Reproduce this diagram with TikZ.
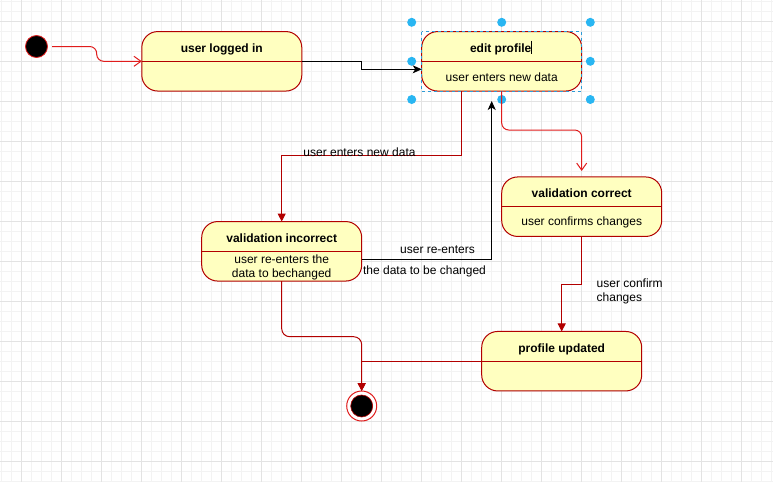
\documentclass[tikz,border=0pt]{standalone}
\usepackage{fontspec}
\setmainfont{Liberation Sans}
\usetikzlibrary{arrows.meta,calc}
\definecolor{statefill}{HTML}{FFFFC0}
\definecolor{statedraw}{HTML}{B20000}
\definecolor{edgered}{HTML}{E01C1C}
\definecolor{gridminor}{HTML}{F3F3F3}
\definecolor{gridmajor}{HTML}{E3E3E3}
\definecolor{handleblue}{HTML}{29B6F2}
\definecolor{selblue}{HTML}{2E9BD6}
\begin{document}
\begin{tikzpicture}[x=1pt,y=-1pt,
  every node/.style={font=\fontsize{12}{14}\selectfont, inner sep=0pt, outer sep=0pt},
  state/.style={draw=statedraw, fill=statefill, rounded corners=16pt, minimum width=160pt, minimum height=59.5pt, line width=1pt},
  divider/.style={draw=statedraw, line width=1pt},
  title/.style={anchor=base, font=\fontsize{12}{14}\selectfont\bfseries},
  body/.style={anchor=base},
  lbl/.style={anchor=base},
  solidarrow/.style={draw=statedraw, line width=1pt, -{Triangle[width=8pt,length=8pt]}},
  openarrow/.style={draw=edgered, line width=1pt, -{Straight Barb[width=10pt,length=7pt,line width=1pt]}, rounded corners=7pt},
  blackarrow/.style={draw=black, line width=1pt, -{Stealth[width=8pt,length=9pt,inset=2.5pt]}},
  handle/.style={circle, fill=handleblue, minimum size=9pt}
]
\useasboundingbox (0,0) rectangle (773,482);
\fill[white] (0,0) rectangle (773,482);
% grid
\foreach \v in {1.7,11.7,...,771.7} \draw[gridminor, line width=0.8pt] (\v,0) -- (\v,482);
\foreach \v in {1.7,11.7,...,481.7} \draw[gridminor, line width=0.8pt] (0,\v) -- (773,\v);
\foreach \v in {21.7,61.7,...,761.7} \draw[gridmajor, line width=0.8pt] (\v,0) -- (\v,482);
\foreach \v in {21.7,61.7,...,461.7} \draw[gridmajor, line width=0.8pt] (0,\v) -- (773,\v);

% states
\node[circle, fill=black, draw=edgered, line width=0.8pt, minimum size=22pt] (init) at (36.5,46.5) {};

\node[state] (login) at (221.8,61.3) {};
\draw[divider] (login.west) -- (login.east);
\node[title] (logint) at (221.8,52.5) {user logged in};

\node[state] (edit) at (501.7,61.3) {};
\draw[divider] (edit.west) -- (edit.east);
\node[title] (editt) at (500.7,52) {edit profile};
\node[body] (editb) at (501.7,81.5) {user enters new data};

\node[state] (incorrect) at (281.7,251.3) {};
\draw[divider] (incorrect.west) -- (incorrect.east);
\node[title] (incorrectt) at (281.7,242) {validation incorrect};
\node[body] (incorrectb1) at (281.7,263.5) {user re-enters the};
\node[body] (incorrectb2) at (281.7,277.5) {data to bechanged};

\node[state] (correct) at (581.7,206.7) {};
\draw[divider] (correct.west) -- (correct.east);
\node[title] (correctt) at (581.7,197) {validation correct};
\node[body] (correctb) at (581.7,225.5) {user confirms changes};

\node[state] (updated) at (561.7,361.2) {};
\draw[divider] (updated.west) -- (updated.east);
\node[title] (updatedt) at (561.7,352.5) {profile updated};

\node[circle, fill=white, draw=edgered, line width=1pt, minimum size=30pt] (final) at (361.7,406) {};
\node[circle, fill=black, draw=statedraw, line width=0.6pt, minimum size=22pt] (finalin) at (361.7,406) {};

% selection decoration around edit profile
\draw[selblue, line width=1pt, dash pattern=on 3pt off 3pt] (edit.north west) rectangle (edit.south east);
\draw[black, line width=0.7pt] (531.5,40.5) -- (531.5,54);
\foreach \hx/\hy [count=\i] in {411.7/22.3, 501.7/22.3, 590.3/22.3, 411.7/61.3, 590.3/61.3, 411.7/99.5, 501.7/99.5, 590.3/99.5}
  \node[handle] (h\i) at (\hx,\hy) {};

% transitions
\draw[openarrow] ([xshift=4.5pt]init.east) -- (96.7,46.5) -- (96.7,61.3) -- (login.west);
\draw[blackarrow] (login.east) -- (361.7,61.3) -- (361.7,69.3) -- ([yshift=-8pt]edit.west);
\draw[solidarrow] ([xshift=-40pt]edit.south) -- (461.7,155.7) -- (281.7,155.7) -- (incorrect.north);
\coordinate (reentry) at (491.7,101);
\draw[blackarrow] ([yshift=-7.7pt]incorrect.east) -- (491.7,259) -- (reentry);
\draw[openarrow, shorten >=6pt] (edit.south) -- (501.7,130) -- (581.7,130) -- (correct.north);
\draw[solidarrow] (correct.south) -- (581.7,284) -- (561.7,284) -- (updated.north);
\draw[solidarrow] (updated.west) -- (361.7,361.2) -- (final.north);
\draw[solidarrow, rounded corners=8pt] (incorrect.south) -- (281.7,336.7) -- (361.7,336.7) -- (final.north);

% labels
\node[lbl] (l1) at (359.5,156.5) {user enters new data};
\node[lbl] (l2) at (437.5,253.3) {user re-enters};
\node[lbl] (l3) at (424.5,274.3) {the data to be changed};
\node[lbl, anchor=base west] (l4) at (596.7,287.7) {user confirm};
\node[lbl, anchor=base west] (l5) at (596.7,301.3) {changes};
\end{tikzpicture}
\end{document}
